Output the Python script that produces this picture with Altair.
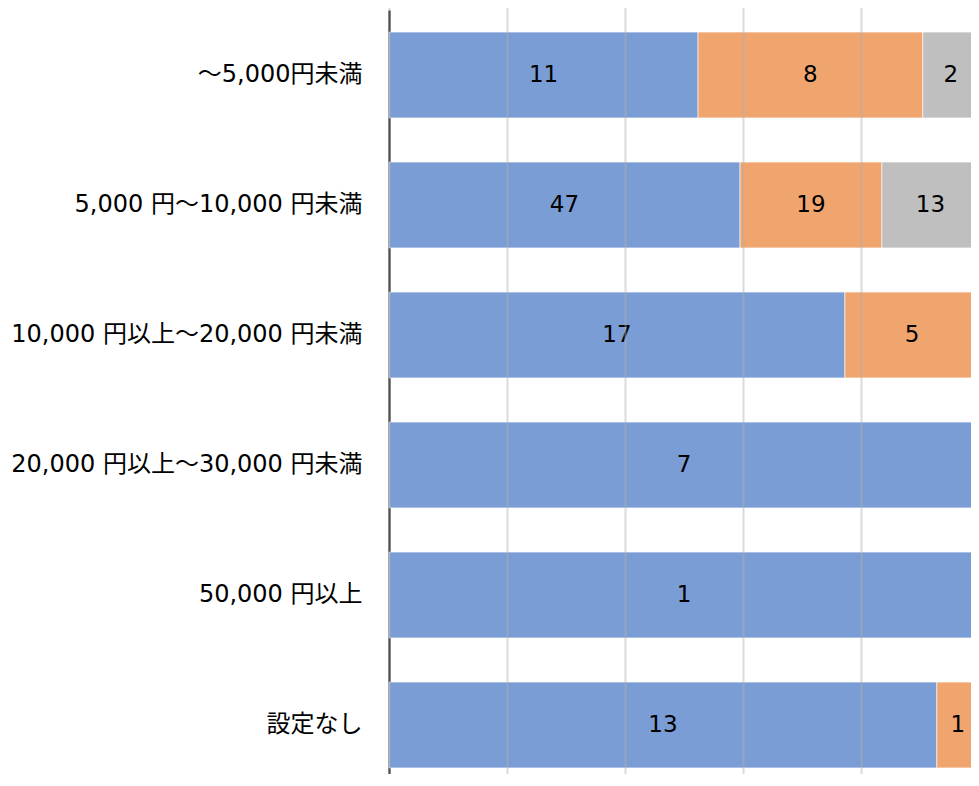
import altair as alt
import pandas as pd

categories = ["～5,000円未満", "5,000 円～10,000 円未満", "10,000 円以上～20,000 円未満",
              "20,000 円以上～30,000 円未満", "50,000 円以上", "設定なし"]
series = ["系列1", "系列2", "系列3"]
s1 = [11, 47, 17, 7, 1, 13]
s2 = [8, 19, 5, 0, 0, 1]
s3 = [2, 13, 0, 0, 0, 0]
colors = ["#7b9dd5", "#f0a56e", "#bfbfbf"]

rows = []
for i, c in enumerate(categories):
    for j, (name, vals) in enumerate(zip(series, [s1, s2, s3])):
        rows.append({"cat": c, "series": name, "order": j, "value": vals[i]})
df = pd.DataFrame(rows)

font = "DejaVu Sans, Noto Sans CJK JP"

base = alt.Chart(df).transform_stack(
    stack="value", groupby=["cat"], as_=["x0", "x1"], offset="normalize",
    sort=[alt.SortField("order", order="ascending")]
).transform_calculate(xm="(datum.x0 + datum.x1) / 2")

yscale = alt.Scale(paddingInner=0.34, paddingOuter=0.17, range=[0, 780])
xscale = alt.Scale(domain=[0, 1], nice=False, range=[0, 590])
y = alt.Y("cat:N", sort=categories, title=None, scale=yscale,
          axis=alt.Axis(labelFontSize=24, labelFont=font, labelColor="#000000",
                        labelPadding=27, ticks=False, domainColor="#000000",
                        domainWidth=2, labelLimit=400))

bars = base.mark_bar(stroke="white", strokeWidth=1, strokeOpacity=0.6).encode(
    x=alt.X("x0:Q", scale=xscale, title=None,
            axis=alt.Axis(values=[0, 0.2, 0.4, 0.6, 0.8, 1.0], labels=False,
                          ticks=False, domain=False, grid=True,
                          gridColor="#b0b0b0", gridOpacity=0.45, gridWidth=2,
                          zindex=1)),
    x2="x1:Q",
    y=y,
    color=alt.Color("series:N", scale=alt.Scale(domain=series, range=colors), legend=None),
)

labels = base.transform_filter("datum.value > 0").mark_text(
    fontSize=23, font=font, color="#000000", align="center", baseline="middle"
).encode(
    x=alt.X("xm:Q"),
    y=alt.Y("cat:N", sort=categories),
    text="value:Q",
)

chart = alt.layer(bars, labels).properties(
    width=582, height=764,
    autosize=alt.AutoSizeParams(type="none"),
    padding={"left": 381, "top": 2, "right": 0, "bottom": 0},
).configure_view(stroke=None)

chart.save("out.html", embed_options={"renderer": "svg", "actions": False})
